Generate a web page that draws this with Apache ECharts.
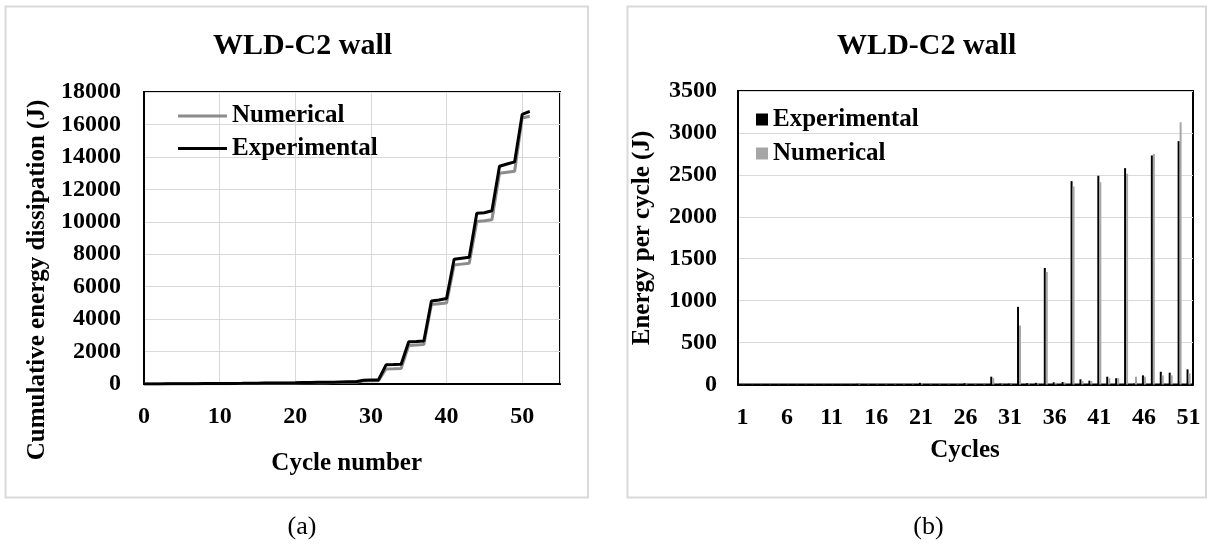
<!DOCTYPE html>
<html><head><meta charset="utf-8">
<script src="https://cdn.jsdelivr.net/npm/echarts@6/dist/echarts.min.js"></script>
<style>html,body{margin:0;padding:0;background:#fff}#c{width:1211px;height:544px}</style>
</head><body><div id="c"></div>
<script>
// ---- Data (a): cumulative energy dissipation ----
const cumCycles = [0,1,2,3,4,5,6,7,8,9,10,11,12,13,14,15,16,17,18,19,20,21,22,23,24,25,26,27,28,29,30,31,32,33,34,35,36,37,38,39,40,41,42,43,44,45,46,47,48,49,50,51];
const cumExperimental = [0,3,6,9,12,15,18,21,24,27,30,33,36,39,47,52,57,61,65,69,73,93,98,103,108,113,128,134,140,233,243,253,1180,1195,1215,2600,2625,2655,5120,5180,5270,7690,7750,7810,10530,10560,10680,13420,13560,13690,16620,16800];
const cumNumerical    = [0,2,4,6,8,10,12,14,16,18,20,22,24,26,32,36,40,44,48,52,56,71,75,79,83,87,99,104,109,186,194,202,930,942,955,2380,2410,2440,4900,4950,5000,7330,7390,7440,10010,10060,10120,12990,13050,13110,16400,16500];

// ---- Data (b): energy per cycle ----
const barCycles = ['1','2','3','4','5','6','7','8','9','10','11','12','13','14','15','16','17','18','19','20','21','22','23','24','25','26','27','28','29','30','31','32','33','34','35','36','37','38','39','40','41','42','43','44','45','46','47','48','49','50','51'];
const barExperimental = [3,3,3,3,3,3,3,3,3,3,3,3,3,8,5,5,4,4,4,4,20,5,5,5,5,15,6,6,93,10,10,926,15,20,1390,26,30,2425,62,46,2489,93,75,2580,10,109,2731,152,141,2902,181];
const barNumerical    = [2,2,2,2,2,2,2,2,2,2,2,2,2,6,4,4,4,4,4,4,15,4,4,4,4,12,5,5,77,8,8,704,12,12,1343,20,25,2362,40,40,2413,75,75,2513,93,93,2750,109,109,3128,133];

const FONT = 'Liberation Serif';
const chart = echarts.init(document.getElementById('c'), null, {renderer: 'canvas'});

function pairs(xs, ys){ return xs.map((x,i)=>[x, ys[i]]); }
const boldText = (size)=>({fontFamily: FONT, fontWeight: 'bold', fontSize: size, color: '#000'});
const plain = v => String(v);
const gtext = (text, x, y, size, weight, rot) => ({
  type: 'text', x: x, y: y, rotation: rot || 0, silent: true,
  style: {text: text, align: 'center', verticalAlign: 'middle', fontFamily: FONT, fontSize: size, fontWeight: weight, fill: '#000'}
});

chart.setOption({
  backgroundColor: '#fff',
  animation: false,
  title: [
    {text: 'WLD-C2 wall', left: 297.5, top: 26, textAlign: 'center', textStyle: Object.assign(boldText(30), {lineHeight: 30})},
    {text: 'WLD-C2 wall', left: 921.7, top: 26, textAlign: 'center', textStyle: Object.assign(boldText(30), {lineHeight: 30})}
  ],
  legend: [
    {
      data: [{name: 'Numerical', itemStyle: {color: '#8c8c8c'}}, {name: 'Experimental', itemStyle: {color: '#000'}}],
      orient: 'vertical', left: 173, top: 98.5, icon: 'rect',
      itemWidth: 49, itemHeight: 3, itemGap: 7.4,
      textStyle: Object.assign(boldText(25), {lineHeight: 25})
    },
    {
      data: [{name: 'Experimental', itemStyle: {color: '#000'}}, {name: 'Numerical', itemStyle: {color: '#a6a6a6'}}],
      orient: 'vertical', left: 751, top: 102, icon: 'rect',
      itemWidth: 12, itemHeight: 12, itemGap: 9,
      textStyle: Object.assign(boldText(25), {lineHeight: 25})
    }
  ],
  grid: [
    {left: 144, top: 92, width: 416, height: 292, show: true, borderColor: '#000', borderWidth: 2, containLabel: false},
    {left: 738, top: 91, width: 455, height: 293.5, show: true, borderColor: '#000', borderWidth: 2, containLabel: false}
  ],
  xAxis: [
    {
      type: 'value', gridIndex: 0, min: 0, max: 55, interval: 10,
      axisLine: {show: true, lineStyle: {color: '#000', width: 2}},
      axisTick: {show: false},
      axisLabel: Object.assign(boldText(24), {margin: 21, showMaxLabel: false, formatter: plain}),
      splitLine: {show: true, lineStyle: {color: '#d9d9d9', width: 1}}
    },
    {
      type: 'category', gridIndex: 1, data: barCycles, boundaryGap: true,
      axisLine: {show: true, lineStyle: {color: '#000', width: 2}},
      axisTick: {show: false},
      axisLabel: Object.assign(boldText(24), {margin: 21, interval: 4}),
      splitLine: {show: false}
    }
  ],
  yAxis: [
    {
      type: 'value', gridIndex: 0, min: 0, max: 18000, interval: 2000,
      axisLine: {show: true, lineStyle: {color: '#000', width: 2}},
      axisTick: {show: false},
      axisLabel: Object.assign(boldText(24), {margin: 23, formatter: plain}),
      splitLine: {show: true, lineStyle: {color: '#d9d9d9', width: 1}}
    },
    {
      type: 'value', gridIndex: 1, min: 0, max: 3500, interval: 500,
      axisLine: {show: true, lineStyle: {color: '#000', width: 2}},
      axisTick: {show: false},
      axisLabel: Object.assign(boldText(24), {margin: 21, formatter: plain}),
      splitLine: {show: true, lineStyle: {color: '#d9d9d9', width: 1}}
    }
  ],
  series: [
    {
      name: 'Numerical', type: 'line', xAxisIndex: 0, yAxisIndex: 0,
      data: pairs(cumCycles, cumNumerical), symbol: 'none',
      lineStyle: {color: '#8c8c8c', width: 3}, itemStyle: {color: '#8c8c8c'}, z: 3
    },
    {
      name: 'Experimental', type: 'line', xAxisIndex: 0, yAxisIndex: 0,
      data: pairs(cumCycles, cumExperimental), symbol: 'none',
      lineStyle: {color: '#000', width: 3}, itemStyle: {color: '#000'}, z: 4
    },
    {
      name: 'Experimental', type: 'bar', xAxisIndex: 1, yAxisIndex: 1,
      data: barExperimental, barWidth: 2, barGap: '0%',
      itemStyle: {color: '#000'}
    },
    {
      name: 'Numerical', type: 'bar', xAxisIndex: 1, yAxisIndex: 1,
      data: barNumerical, barWidth: 2, barGap: '0%',
      itemStyle: {color: '#a6a6a6'}
    }
  ],
  graphic: [
    {type: 'rect', shape: {x: 5.5, y: 6.5, width: 582.5, height: 491}, style: {fill: 'none', stroke: '#d9d9d9', lineWidth: 2}, silent: true, z: -10},
    {type: 'rect', shape: {x: 627.5, y: 6.5, width: 578.5, height: 491}, style: {fill: 'none', stroke: '#d9d9d9', lineWidth: 2}, silent: true, z: -10},
    gtext('Cumulative energy dissipation (J)', 38, 280, 25, 'bold', Math.PI/2),
    gtext('Cycle number', 346.7, 463.3, 25, 'bold'),
    gtext('Energy per cycle (J)', 643, 238, 25, 'bold', Math.PI/2),
    gtext('Cycles', 965, 451, 25, 'bold'),
    gtext('(a)', 302, 526.7, 26, 'normal'),
    gtext('(b)', 928.5, 526.7, 26, 'normal')
  ]
});
</script>
</body></html>
